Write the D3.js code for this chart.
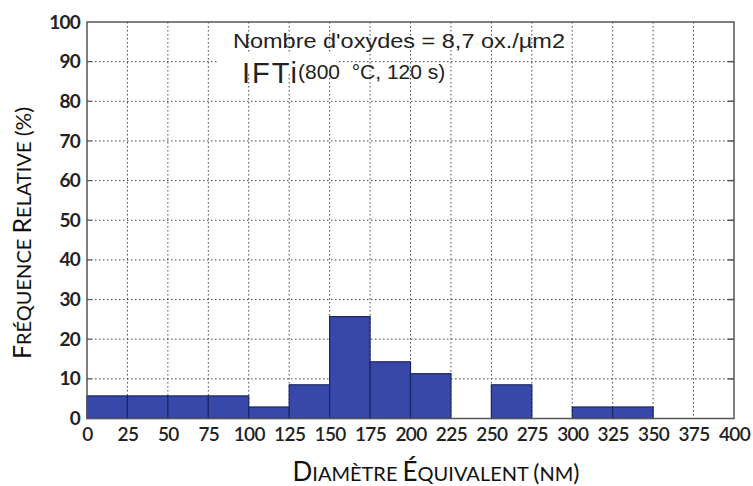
<!DOCTYPE html>
<html><head><meta charset="utf-8">
<script src="https://cdn.jsdelivr.net/npm/d3@7"></script>
<style>body{margin:0;background:#fff}svg{display:block}text{white-space:pre}</style>
</head><body>
<script>
const binStarts = [0,25,50,75,100,125,150,175,200,225,250,275,300,325];
const binWidth = 25;
const freq = [5.7,5.7,5.7,5.7,2.9,8.5,25.7,14.3,11.3,0,8.5,0,2.9,2.9];
const xTicks = [0,25,50,75,100,125,150,175,200,225,250,275,300,325,350,375,400];
const yTicks = [0,10,20,30,40,50,60,70,80,90,100];
const annot1 = "Nombre d'oxydes = 8,7 ox./µm2";
const annotBig = "IFTi";
const annotSmall = "(800  °C, 120 s)";

const W=753,H=486;
const m={l:87,r:734,t:22,b:418.5};
const svg=d3.select("body").append("svg").attr("width",W).attr("height",H);
const x=d3.scaleLinear().domain([0,400]).range([m.l,m.r]);
const y=d3.scaleLinear().domain([0,100]).range([m.b,m.t]);

// grid
const g=svg.append("g");
g.selectAll(".vg").data(xTicks.slice(1,-1)).join("line")
 .attr("x1",d=>x(d)).attr("x2",d=>x(d)).attr("y1",m.t).attr("y2",m.b)
 .attr("stroke","#444").attr("stroke-width",1).attr("stroke-dasharray","1.5,2.5");
g.selectAll(".hg").data(yTicks.slice(1,-1)).join("line")
 .attr("x1",m.l).attr("x2",m.r).attr("y1",d=>y(d)).attr("y2",d=>y(d))
 .attr("stroke","#444").attr("stroke-width",1).attr("stroke-dasharray","1.5,2.5");

// bars
svg.selectAll(".bar").data(binStarts.map((s,i)=>({s,v:freq[i]})).filter(d=>d.v>0)).join("rect")
 .attr("x",d=>x(d.s)).attr("width",d=>x(d.s+binWidth)-x(d.s))
 .attr("y",d=>y(d.v)).attr("height",d=>y(0)-y(d.v))
 .attr("fill","#3748a8").attr("stroke","#1b2565").attr("stroke-width",1.2);

// frame
svg.append("rect").attr("x",m.l).attr("y",m.t).attr("width",m.r-m.l).attr("height",m.b-m.t)
 .attr("fill","none").attr("stroke","#555").attr("stroke-width",1.5);
svg.selectAll(".rt").data(yTicks.slice(1,-1)).join("line")
 .attr("x1",m.r-6).attr("x2",m.r).attr("y1",d=>y(d)).attr("y2",d=>y(d))
 .attr("stroke","#555").attr("stroke-width",1.5);
svg.selectAll(".lt").data(yTicks.slice(1,-1)).join("line")
 .attr("x1",m.l).attr("x2",m.l+5).attr("y1",d=>y(d)).attr("y2",d=>y(d))
 .attr("stroke","#555").attr("stroke-width",1.2);

const font="Lato, 'Open Sans', sans-serif";
const xa=svg.append("g").attr("transform",`translate(0,${m.b})`)
 .call(d3.axisBottom(x).tickValues(xTicks).tickSize(0).tickPadding(9).tickFormat(d3.format("d")));
xa.select(".domain").remove();
xa.selectAll("text").attr("font-family",font).attr("font-size",19).attr("font-weight",600).attr("fill","#222").attr("letter-spacing","-0.6");
const ya=svg.append("g").attr("transform",`translate(${m.l},0)`)
 .call(d3.axisLeft(y).tickValues(yTicks).tickSize(0).tickPadding(7).tickFormat(d3.format("d")));
ya.select(".domain").remove();
ya.selectAll("text").attr("font-family",font).attr("font-size",19).attr("font-weight","bold").attr("fill","#222").attr("letter-spacing","-0.8");

// axis titles (small caps)
const xt=svg.append("text").attr("x",436).attr("y",481).attr("text-anchor","middle")
 .attr("font-family",font).attr("fill","#111");
xt.append("tspan").attr("font-size",26).text("D");
xt.append("tspan").attr("font-size",20).text("IAMÈTRE ");
xt.append("tspan").attr("font-size",26).text("É");
xt.append("tspan").attr("font-size",20).text("QUIVALENT ");
xt.append("tspan").attr("font-size",23).text("(");
xt.append("tspan").attr("font-size",20).text("NM");
xt.append("tspan").attr("font-size",23).text(")");

const yt=svg.append("text").attr("transform","translate(31,233) rotate(-90)").attr("text-anchor","middle")
 .attr("font-family",font).attr("fill","#111");
yt.append("tspan").attr("font-size",25).text("F");
yt.append("tspan").attr("font-size",20).text("RÉQUENCE ");
yt.append("tspan").attr("font-size",25).text("R");
yt.append("tspan").attr("font-size",20).text("ELATIVE ");
yt.append("tspan").attr("font-size",22).text("(%)");

// annotation
svg.append("rect").attr("x",219).attr("y",53).attr("width",118).attr("height",20).attr("fill","#fff");
const af="'Liberation Sans', Arial, sans-serif";
svg.append("text").attr("x",233).attr("y",48).attr("font-family",af).attr("font-size",20)
 .attr("fill","#222").attr("textLength",332).attr("lengthAdjust","spacingAndGlyphs").text(annot1);
svg.append("text").attr("x",242).attr("y",83).attr("font-family",af).attr("font-size",29)
 .attr("fill","#222").attr("letter-spacing","2").text(annotBig);
svg.append("text").attr("x",298).attr("y",79).attr("font-family",af).attr("font-size",21)
 .attr("fill","#222").text(annotSmall);
</script>
</body></html>
